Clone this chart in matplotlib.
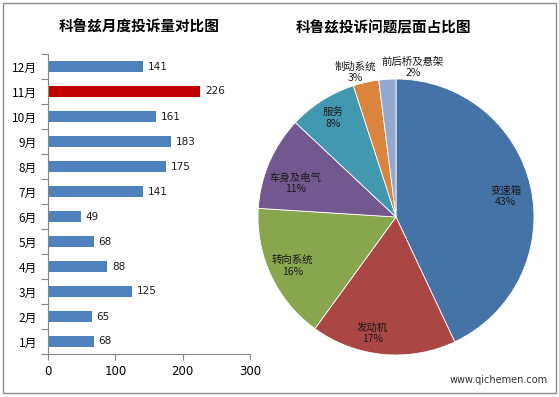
import numpy as np
import matplotlib
matplotlib.use("Agg")
import matplotlib.pyplot as plt
from matplotlib.patches import Rectangle
from matplotlib.ticker import FixedLocator

plt.rcParams['font.family'] = ['Noto Sans CJK SC', 'DejaVu Sans']

months = ['1月', '2月', '3月', '4月', '5月', '6月', '7月', '8月', '9月', '10月', '11月', '12月']
complaints = [68, 65, 125, 88, 68, 49, 141, 175, 183, 161, 226, 141]
highlight_month = '11月'

pie_labels = ['变速箱', '发动机', '转向系统', '车身及电气', '服务', '制动系统', '前后桥及悬架']
pie_values = [43, 17, 16, 11, 8, 3, 2]

x_ticks = [0, 100, 200, 300]

W, H = 559, 397
fig = plt.figure(figsize=(W / 100, H / 100), dpi=100)
fig.patch.set_facecolor('white')

# outer border
fig.add_artist(Rectangle((3 / W, 1 - 393 / H), 553 / W, 390 / H, transform=fig.transFigure,
                         fill=False, edgecolor='#8c8c8c', linewidth=1.0))

# ---------- bar chart ----------
axb = fig.add_axes([48 / W, 1 - 354 / H, 202 / W, 300 / H])
ypos = np.arange(len(months))
colors = ['#C00000' if m == highlight_month else '#4F81BD' for m in months]
axb.barh(ypos, complaints, height=0.42, color=colors, edgecolor='none')
for y, v in zip(ypos, complaints):
    axb.text(v + 7, y, str(v), va='center', ha='left', fontsize=7.5, color='#1a1a1a',
             family=['DejaVu Sans'])
axb.set_xlim(0, 300)
axb.set_ylim(-0.5, len(months) - 0.5)
axb.set_yticks(ypos)
axb.set_yticklabels(months, fontsize=8.5)
axb.yaxis.set_minor_locator(FixedLocator(np.arange(-0.5, len(months), 1.0)))
axb.tick_params(axis='y', which='major', length=0, pad=8)
axb.tick_params(axis='y', which='minor', length=5, color='#868686', width=0.8)
axb.set_xticks(x_ticks)
axb.set_xticklabels([str(t) for t in x_ticks], fontsize=8.5, family=['DejaVu Sans'])
axb.tick_params(axis='x', length=4, color='#868686', width=0.8, pad=4)
for s in ['top', 'right']:
    axb.spines[s].set_visible(False)
for s in ['left', 'bottom']:
    axb.spines[s].set_color('#868686')
    axb.spines[s].set_linewidth(0.8)

fig.text(139 / W, 1 - 27 / H, '科鲁兹月度投诉量对比图', ha='center', va='center',
         fontsize=10.5, fontweight='bold')

# ---------- pie chart ----------
cx, cy, r = 396, 217, 138
axp = fig.add_axes([(cx - r) / W, 1 - (cy + r) / H, 2 * r / W, 2 * r / H])
pie_colors = ['#4572A7', '#AA4643', '#89A54E', '#71588F', '#4198AF', '#DB843D', '#93A9CF']
wedges, _ = axp.pie(pie_values, colors=pie_colors, startangle=90, counterclock=False,
                    radius=1.0, wedgeprops=dict(edgecolor='white', linewidth=0.6))
axp.set_xlim(-1, 1)
axp.set_ylim(-1, 1)
axp.set_aspect('equal')
axp.axis('off')

label_dist = [0.81, 0.86, 0.83, 0.77, 0.85, 1.09, 1.09]
angle_shift = [-2, -6, 0, 5, 0, 3, -10]
for w, lab, v, d, sh in zip(wedges, pie_labels, pie_values, label_dist, angle_shift):
    ang = np.deg2rad((w.theta1 + w.theta2) / 2 + sh)
    axp.text(d * np.cos(ang), d * np.sin(ang), f'{lab}\n{v}%', ha='center', va='center',
             fontsize=7.5, color='#1a1a1a', linespacing=1.2, clip_on=False)

fig.text(383 / W, 1 - 27 / H, '科鲁兹投诉问题层面占比图', ha='center', va='center',
         fontsize=10.5, fontweight='bold')

fig.text(548 / W, 1 - 380 / H, 'www.qichemen.com', ha='right', va='center',
         fontsize=7, color='#333333', family=['DejaVu Sans'])

fig.savefig('out.png', dpi=100, facecolor='white')
